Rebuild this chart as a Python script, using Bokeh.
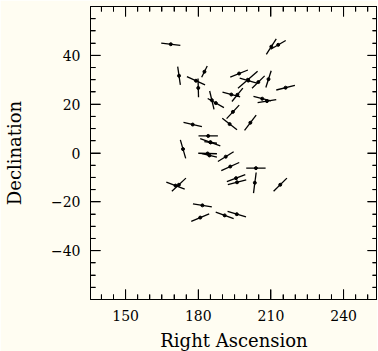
from bokeh.plotting import figure
from bokeh.models import LinearAxis, Range1d, FixedTicker, ColumnDataSource
from bokeh.embed import file_html
from bokeh.resources import INLINE

# Segment end points (Right Ascension, Declination)
ra_start = [164.7, 208.1, 209.9, 171.5, 175.3, 179.9, 181.4, 184.7, 183.9, 190.0,
            193.9, 193.2, 196.4, 197.1, 202.2, 207.9, 212.2, 202.8, 204.5, 191.7,
            189.9, 199.1, 173.9, 172.6, 180.1, 180.8, 182.5, 180.0, 181.5, 188.1,
            189.5, 199.8, 203.9, 191.8, 192.2, 166.8, 169.1, 211.1, 177.8, 177.1,
            187.2, 192.1]
dec_start = [45.0, 40.4, 42.5, 35.4, 31.3, 30.5, 31.0, 25.4, 22.3, 24.9,
             21.1, 31.1, 26.5, 30.7, 26.5, 26.8, 25.8, 23.2, 20.6, 14.1,
             14.2, 9.3, 12.5, 5.4, 7.0, 5.9, 4.7, -0.1, -0.3, -3.5,
             -7.2, -6.2, -8.0, -11.7, -13.0, -11.9, -15.7, -15.7, -20.8, -28.0,
             -24.2, -23.9]
ra_end = [172.6, 212.2, 216.1, 172.6, 182.8, 180.1, 183.7, 186.5, 190.6, 197.3,
          198.4, 200.5, 204.5, 204.2, 207.4, 210.1, 219.9, 210.0, 212.2, 196.9,
          196.0, 203.9, 181.5, 174.8, 188.1, 189.1, 187.7, 187.7, 187.7, 194.6,
          196.9, 207.8, 202.8, 199.4, 199.8, 174.4, 174.9, 216.6, 185.6, 184.5,
          194.6, 199.7]
dec_end = [44.1, 46.7, 46.1, 27.9, 27.9, 22.8, 35.6, 17.9, 18.6, 23.0,
           26.6, 34.0, 33.5, 28.6, 31.6, 33.7, 27.7, 21.3, 21.9, 19.6,
           9.5, 15.5, 10.8, -2.2, 7.0, 2.9, 4.0, -0.3, -1.7, 0.5,
           -3.9, -6.2, -16.4, -8.9, -11.0, -14.8, -10.3, -10.3, -22.1, -24.9,
           -26.9, -26.2]

x_major = [150, 180, 210, 240]
y_major = [-40, -20, 0, 20, 40]
x_minor_step = 5
y_minor_step = 5

x_lo, x_hi = 135.5, 254.0
y_lo, y_hi = -60, 60

FW, FH = 287, 293          # frame size in pixels
MAJ, MIN = 10, 5           # inward tick lengths in pixels

src = ColumnDataSource(dict(
    x0=ra_start, y0=dec_start, x1=ra_end, y1=dec_end,
    xm=[(a + b) / 2 for a, b in zip(ra_start, ra_end)],
    ym=[(a + b) / 2 for a, b in zip(dec_start, dec_end)],
))

bg = "#fffdf2"
p = figure(frame_width=FW, frame_height=FH, output_backend="svg", toolbar_location=None,
           x_range=Range1d(x_lo, x_hi), y_range=Range1d(y_lo, y_hi),
           x_axis_location=None, y_axis_location=None,
           min_border_left=90, min_border_right=0, min_border_top=6,
           min_border_bottom=52)
p.background_fill_color = bg
p.border_fill_color = bg
p.outline_line_color = "black"
p.outline_line_width = 1
p.xgrid.visible = False
p.ygrid.visible = False

font = "DejaVu Serif"
x_minor = [v for v in range(135, 256, x_minor_step) if v not in x_major and x_lo <= v <= x_hi]
y_minor = [v for v in range(-60, 61, y_minor_step) if v not in y_major and y_lo < v < y_hi]

def style(ax, labels=True):
    ax.major_tick_in = MAJ
    ax.major_tick_out = 0
    ax.minor_tick_in = MIN
    ax.minor_tick_out = 0
    ax.axis_line_color = "black"
    ax.major_tick_line_color = "black"
    ax.minor_tick_line_color = "black"
    ax.major_label_text_font = font
    ax.major_label_text_font_size = "14px"
    ax.major_label_text_color = "black"
    ax.axis_label_text_font = font
    ax.axis_label_text_font_size = "18px"
    ax.axis_label_text_font_style = "normal"
    ax.axis_label_text_color = "black"
    if not labels:
        ax.major_label_text_font_size = "0px"
        ax.major_label_text_color = None
        ax.major_label_text_alpha = 0
        ax.major_label_standoff = 0

bx = LinearAxis(ticker=FixedTicker(ticks=x_major, minor_ticks=x_minor),
                axis_label="Right Ascension")
style(bx)
bx.major_label_standoff = 10
bx.axis_label_standoff = 6
p.add_layout(bx, "below")

ly = LinearAxis(ticker=FixedTicker(ticks=y_major, minor_ticks=y_minor),
                axis_label="Declination")
style(ly)
ly.major_label_standoff = 10
ly.axis_label_standoff = 23
p.add_layout(ly, "left")

tx = LinearAxis(ticker=FixedTicker(ticks=x_major, minor_ticks=x_minor))
style(tx, labels=False)
p.add_layout(tx, "above")

ry = LinearAxis(ticker=FixedTicker(ticks=y_major, minor_ticks=y_minor))
style(ry, labels=False)
p.add_layout(ry, "right")

# backup inward tick marks drawn as short segments just inside the frame edge
dx = (x_hi - x_lo) / FW    # data units per pixel
dy = (y_hi - y_lo) / FH
e = 0.6

tx0, ty0, tx1, ty1 = [], [], [], []
for xs, L in ((x_major, MAJ), (x_minor, MIN)):
    for v in xs:
        tx0 += [v, v]; tx1 += [v, v]
        ty0 += [y_lo + e * dy, y_hi - e * dy]
        ty1 += [y_lo + L * dy, y_hi - L * dy]
for ys, L in ((y_major, MAJ), (y_minor, MIN)):
    for v in ys:
        ty0 += [v, v]; ty1 += [v, v]
        tx0 += [x_lo + e * dx, x_hi - e * dx]
        tx1 += [x_lo + L * dx, x_hi - L * dx]
p.segment(x0=tx0, y0=ty0, x1=tx1, y1=ty1, line_color="black", line_width=1)

p.segment(x0="x0", y0="y0", x1="x1", y1="y1", source=src,
          line_color="black", line_width=1.3)
p.scatter(x="xm", y="ym", source=src, size=3, color="black")

open("out.html", "w").write(file_html(p, INLINE))
